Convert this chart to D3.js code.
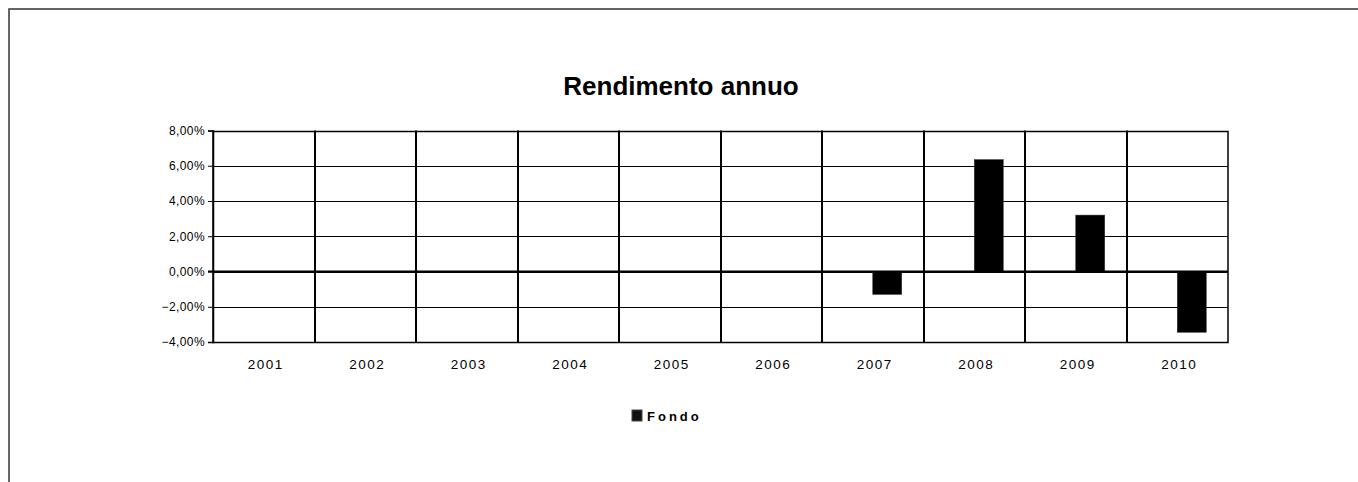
<!DOCTYPE html>
<html>
<head>
<meta charset="utf-8">
<script src="https://cdn.jsdelivr.net/npm/d3@7"></script>
<style>
  html, body { margin: 0; background: #fff; overflow: hidden; }
  svg { display: block; }
  text { font-family: "Liberation Sans", Arial, sans-serif; }
</style>
</head>
<body>
<div id="chart"></div>
<script>
// data
const years = ["2001","2002","2003","2004","2005","2006","2007","2008","2009","2010"];
const fondo = [null,null,null,null,null,null,-1.3,6.35,3.2,-3.45];
const yTicks = [-4,-2,0,2,4,6,8];

const width = 1358;
const height = 482;
const plot = {left:213, right:1228, top:130.5, bottom:342};

const svg = d3.select("#chart")
              .append("svg")
              .attr("width",width)
              .attr("height",height);

svg.append("rect").attr("width",width).attr("height",height).attr("fill","#fff");

// outer frame (only top and left are visible in the window)
svg.append("rect")
    .attr("x",9).attr("y",9)
    .attr("width",width+40).attr("height",height+40)
    .attr("fill","none")
    .attr("stroke","#333")
    .attr("stroke-width",1.5);

svg.append("text")
    .attr("x",681).attr("y",95)
    .attr("text-anchor","middle")
    .attr("font-size","26px")
    .attr("font-weight","bold")
    .text("Rendimento annuo");

const x = d3.scaleBand().domain(years).range([plot.left,plot.right]);
const y = d3.scaleLinear().domain([-4,8]).range([plot.bottom,plot.top]);

// horizontal grid
svg.selectAll("line.hgrid").data(yTicks).enter()
    .append("line")
    .attr("class","hgrid")
    .attr("x1",plot.left).attr("x2",plot.right)
    .attr("y1",d=>Math.round(y(d))+0.5).attr("y2",d=>Math.round(y(d))+0.5)
    .attr("stroke","#000")
    .attr("stroke-width",1);

// vertical grid at category boundaries
svg.selectAll("line.vgrid").data(years.slice(1)).enter()
    .append("line")
    .attr("class","vgrid")
    .attr("x1",d=>Math.round(x(d))).attr("x2",d=>Math.round(x(d)))
    .attr("y1",plot.top).attr("y2",plot.bottom)
    .attr("stroke","#000")
    .attr("stroke-width",2);

// plot border
svg.append("rect")
    .attr("x",plot.left).attr("y",Math.round(plot.top)+0.5)
    .attr("width",plot.right-plot.left)
    .attr("height",Math.round(plot.bottom)-Math.round(plot.top))
    .attr("fill","none")
    .attr("stroke","#000")
    .attr("stroke-width",1.5);

// bars (series sits right of the category centre)
const barW = 29;
svg.selectAll("rect.bar").data(years.map((d,i)=>({year:d,v:fondo[i]})).filter(d=>d.v!==null)).enter()
    .append("rect")
    .attr("class","bar")
    .attr("x",d=>x(d.year)+x.bandwidth()/2)
    .attr("y",d=>y(Math.max(0,d.v)))
    .attr("width",barW)
    .attr("height",d=>Math.abs(y(d.v)-y(0)))
    .attr("fill","#000")
    .attr("stroke","#333")
    .attr("stroke-width",0.5);

// zero line
svg.append("line")
    .attr("x1",plot.left-5).attr("x2",plot.right)
    .attr("y1",y(0)).attr("y2",y(0))
    .attr("stroke","#000")
    .attr("stroke-width",2);

// y axis
const yAxis = svg.append("g")
    .attr("transform",`translate(${plot.left},0)`)
    .call(d3.axisLeft(y).tickValues(yTicks).tickSize(5).tickPadding(3)
        .tickFormat(d=>d3.format(".2f")(d).replace(".",",")+"%"));
yAxis.select(".domain").attr("stroke","#000").attr("stroke-width",1.5);
yAxis.selectAll("text").attr("font-size","12px").attr("fill","#000")
    .attr("letter-spacing","0.4px")
    .attr("font-family","'Liberation Sans', Arial, sans-serif");

// x labels
svg.selectAll("text.xlab").data(years).enter()
    .append("text")
    .attr("class","xlab")
    .attr("x",d=>x(d)+x.bandwidth()/2+2)
    .attr("y",369)
    .attr("text-anchor","middle")
    .attr("font-size","13.5px")
    .attr("letter-spacing","1.5px")
    .text(d=>d);

// legend
svg.append("rect")
    .attr("x",632).attr("y",410).attr("width",10).attr("height",11)
    .attr("fill","#111").attr("stroke","#444").attr("stroke-width",1);
svg.append("text")
    .attr("x",647).attr("y",421)
    .attr("font-size","13px")
    .attr("font-weight","bold")
    .attr("letter-spacing","3px")
    .text("Fondo");
</script>
</body>
</html>
